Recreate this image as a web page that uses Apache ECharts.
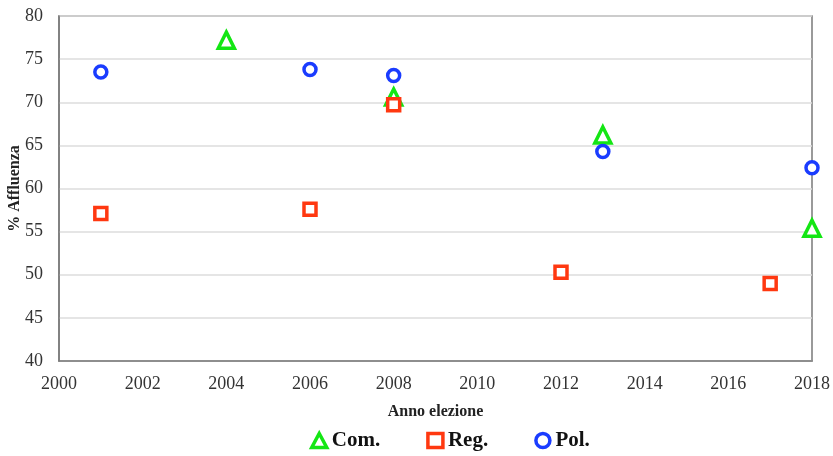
<!DOCTYPE html>
<html>
<head>
<meta charset="utf-8">
<script src="https://cdn.jsdelivr.net/npm/echarts@6/dist/echarts.min.js"></script>
<style>
  html, body { margin: 0; padding: 0; background: #fff; }
  #main { width: 833px; height: 456px; }
</style>
</head>
<body>
<div id="main"></div>
<script>
// dati
const comYears = [2004, 2008, 2013, 2018];
const comValues = [77.2, 70.6, 66.2, 55.4];
const regYears = [2001, 2006, 2008, 2012, 2017];
const regValues = [57.1, 57.6, 69.7, 50.3, 49.0];
const polYears = [2001, 2006, 2008, 2013, 2018];
const polValues = [73.5, 73.8, 73.1, 64.3, 62.4];

const pairs = (xs, ys) => xs.map((x, i) => [x, ys[i]]);
const serif = "Liberation Serif";
const colors = { com: "#14e614", reg: "#ff3810", pol: "#1a3cff" };

var myChart = echarts.init(document.getElementById("main"));

var option = {
  animation: false,
  backgroundColor: "#fff",
  grid: {
    left: 59,
    right: 21,
    top: 16,
    bottom: 95,
    outerBoundsMode: "none",
    containLabel: false,
    show: true,
    borderColor: "#7a7a7a",
    borderWidth: 1.5,
  },
  legend: {
    top: 425,
    left: 305,
    itemGap: 46,
    itemWidth: 15,
    itemHeight: 14,
    textStyle: {
      fontFamily: serif,
      fontSize: 21,
      fontWeight: "bold",
      color: "#111",
    },
    data: [
      { name: "Com.", itemStyle: { color: "#fff", borderColor: colors.com, borderWidth: 3.5 } },
      { name: "Reg.", itemStyle: { color: "#fff", borderColor: colors.reg, borderWidth: 3.5 } },
      { name: "Pol.", itemStyle: { color: "#fff", borderColor: colors.pol, borderWidth: 3.5 } },
    ],
  },
  xAxis: {
    type: "value",
    min: 2000,
    max: 2018,
    interval: 2,
    name: "Anno elezione",
    nameLocation: "middle",
    nameGap: 43,
    nameMoveOverlap: false,
    nameTextStyle: {
      fontFamily: serif,
      fontSize: 16,
      fontWeight: "bold",
      color: "#222",
    },
    axisLine: { lineStyle: { color: "#7a7a7a", width: 1.5 } },
    axisTick: { show: false },
    axisLabel: {
      fontFamily: serif,
      fontSize: 18,
      color: "#333",
      margin: 14,
      formatter: (v) => String(v),
    },
    splitLine: { show: false },
  },
  yAxis: {
    type: "value",
    min: 40,
    max: 80,
    interval: 5,
    name: "% Affluenza",
    nameLocation: "middle",
    nameGap: 36,
    nameMoveOverlap: false,
    nameTextStyle: {
      fontFamily: serif,
      fontSize: 16,
      fontWeight: "bold",
      color: "#222",
    },
    axisLine: { show: true, lineStyle: { color: "#7a7a7a", width: 1.5 } },
    axisTick: { show: false },
    axisLabel: {
      fontFamily: serif,
      fontSize: 18,
      color: "#333",
      margin: 16,
    },
    splitLine: { lineStyle: { color: "#dcdcdc", width: 1.5 } },
  },
  series: [
    {
      name: "Com.",
      type: "scatter",
      symbol: "triangle",
      symbolSize: 16,
      itemStyle: { color: "#fff", borderColor: colors.com, borderWidth: 3.5, opacity: 1 },
      data: pairs(comYears, comValues),
      z: 2,
    },
    {
      name: "Reg.",
      type: "scatter",
      symbol: "rect",
      symbolSize: 12,
      itemStyle: { color: "#fff", borderColor: colors.reg, borderWidth: 3.5, opacity: 1 },
      data: pairs(regYears, regValues),
      z: 3,
    },
    {
      name: "Pol.",
      type: "scatter",
      symbol: "circle",
      symbolSize: 12,
      itemStyle: { color: "#fff", borderColor: colors.pol, borderWidth: 3.5, opacity: 1 },
      data: pairs(polYears, polValues),
      z: 4,
    },
  ],
};

myChart.setOption(option);
</script>
</body>
</html>
